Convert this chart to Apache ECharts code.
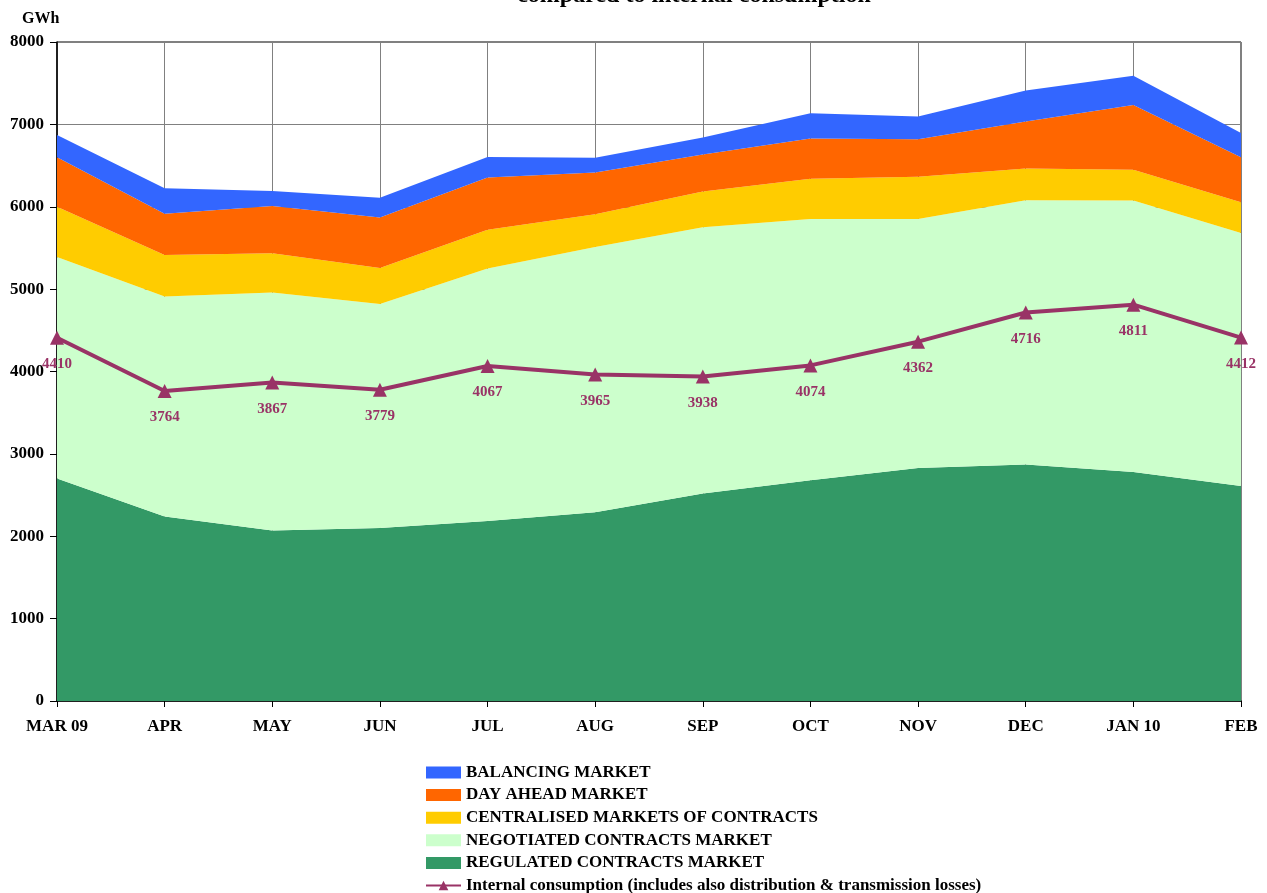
<!DOCTYPE html>
<html>
<head>
<meta charset="utf-8">
<script src="https://cdn.jsdelivr.net/npm/echarts@6/dist/echarts.min.js"></script>
<style>
html,body{margin:0;padding:0;background:#fff;}
#c{width:1267px;height:893px;}
</style>
</head>
<body>
<div id="c"></div>
<script>
const categories = ['MAR 09','APR','MAY','JUN','JUL','AUG','SEP','OCT','NOV','DEC','JAN 10','FEB'];
const regulated   = [2700, 2240, 2070, 2100, 2185, 2290, 2520, 2680, 2830, 2870, 2780, 2610];
const negotiated  = [2690, 2670, 2890, 2720, 3065, 3220, 3230, 3170, 3020, 3210, 3295, 3070];
const centralised = [610, 505, 475, 435, 470, 400, 435, 490, 515, 385, 375, 375];
const dayAhead    = [600, 500, 575, 615, 635, 505, 450, 490, 455, 570, 785, 545];
const balancing   = [270, 310, 180, 240, 250, 180, 205, 305, 275, 375, 355, 295];
const consumption = [4410, 3764, 3867, 3779, 4067, 3965, 3938, 4074, 4362, 4716, 4811, 4412];
const yTicks = [0, 1000, 2000, 3000, 4000, 5000, 6000, 7000, 8000];

const FONT = "'Liberation Serif','Times New Roman',serif";
const chart = echarts.init(document.getElementById('c'));

function area(name, data, color) {
  return {
    name, type: 'line', stack: 'total', data,
    symbol: 'none', smooth: false,
    lineStyle: { width: 0, color },
    itemStyle: { color },
    areaStyle: { color, opacity: 1 },
    emphasis: { disabled: true }
  };
}

chart.setOption({
  animation: false,
  backgroundColor: '#fff',
  graphic: [
    {
      type: 'text', x: 694, y: -4.5,
      style: { text: 'compared to internal consumption', fontFamily: FONT, fontSize: 24, fontWeight: 'bold',
               fill: '#000', align: 'center', verticalAlign: 'middle' }
    },
    {
      type: 'text', x: 22, y: 19,
      style: { text: 'GWh', fontFamily: FONT, fontSize: 16, fontWeight: 'bold', fill: '#000', verticalAlign: 'middle' }
    }
  ],
  grid: {
    left: 57, right: 26, top: 42, bottom: 192,
    show: true, borderColor: '#000', borderWidth: 1, backgroundColor: 'transparent'
  },
  legend: {
    orient: 'vertical', left: 425, top: 764, height: 135, padding: 0,
    itemWidth: 35, itemHeight: 12, itemGap: 5.6,
    textStyle: { fontFamily: FONT, fontSize: 17, fontWeight: 'bold', color: '#000', lineHeight: 17 },
    itemStyle: { borderWidth: 0 },
    data: [
      { name: 'BALANCING MARKET', icon: 'rect' },
      { name: 'DAY AHEAD MARKET', icon: 'rect' },
      { name: 'CENTRALISED MARKETS OF CONTRACTS', icon: 'rect' },
      { name: 'NEGOTIATED CONTRACTS MARKET', icon: 'rect' },
      { name: 'REGULATED CONTRACTS MARKET', icon: 'rect' },
      { name: 'Internal consumption (includes also distribution & transmission losses)' }
    ]
  },
  xAxis: {
    type: 'category', data: categories, boundaryGap: false,
    axisLine: { lineStyle: { color: '#000', width: 1.5 } },
    axisTick: { show: true, length: 6, inside: false, lineStyle: { color: '#000' } },
    axisLabel: { fontFamily: FONT, fontSize: 17, fontWeight: 'bold', color: '#000', margin: 17 },
    splitLine: { show: true, lineStyle: { color: '#808080', width: 1 } }
  },
  yAxis: {
    type: 'value', min: yTicks[0], max: yTicks[yTicks.length - 1], interval: 1000,
    axisLine: { show: true, lineStyle: { color: '#000', width: 1.5 } },
    axisTick: { show: true, length: 7, lineStyle: { color: '#000' } },
    axisLabel: { fontFamily: FONT, fontSize: 17, fontWeight: 'bold', color: '#000', margin: 13,
                 formatter: v => String(v) },
    splitLine: { show: true, lineStyle: { color: '#808080', width: 1 } }
  },
  series: [
    area('REGULATED CONTRACTS MARKET', regulated, '#339966'),
    area('NEGOTIATED CONTRACTS MARKET', negotiated, '#CCFFCC'),
    area('CENTRALISED MARKETS OF CONTRACTS', centralised, '#FFCC00'),
    area('DAY AHEAD MARKET', dayAhead, '#FF6600'),
    area('BALANCING MARKET', balancing, '#3366FF'),
    {
      name: 'Internal consumption (includes also distribution & transmission losses)',
      type: 'line', data: consumption,
      symbol: 'triangle', symbolSize: 14,
      lineStyle: { color: '#993366', width: 4 },
      itemStyle: { color: '#993366' },
      label: {
        show: true, position: 'bottom', distance: 12,
        fontFamily: FONT, fontSize: 15, fontWeight: 'bold', color: '#993366'
      },
      z: 5,
      emphasis: { disabled: true }
    }
  ]
});
</script>
</body>
</html>
